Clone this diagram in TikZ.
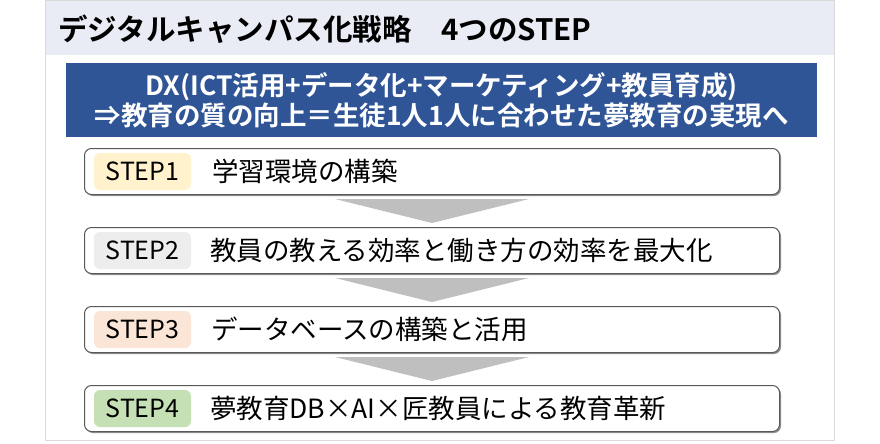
\documentclass[tikz,border=0pt]{standalone}
\usepackage{fontspec}
\setmainfont{Noto Sans CJK JP}
\newfontfamily\jpb{Noto Sans CJK JP Bold}
\usetikzlibrary{shadows}
\definecolor{band}{HTML}{E9EBF5}
\definecolor{frame}{HTML}{D9D9D9}
\definecolor{dxblue}{HTML}{2F5597}
\definecolor{bOne}{HTML}{FFF2CC}
\definecolor{bTwo}{HTML}{EDEDED}
\definecolor{bThree}{HTML}{FBE5D6}
\definecolor{bFour}{HTML}{C5E0B4}
\definecolor{arrowgray}{HTML}{BFBFBF}
\tikzset{
  stepbox/.style={draw=black!65, line width=1pt, fill=white, rounded corners=7pt,
    minimum width=695pt, minimum height=46pt, anchor=north west, inner sep=0pt,
    drop shadow={shadow xshift=1.5pt, shadow yshift=-1.5pt, fill=black!55, opacity=0.8}},
  badge/.style={rounded corners=6pt, minimum width=97pt, minimum height=37pt,
    inner sep=0pt, font=\fontsize{25}{28}\selectfont},
  steptext/.style={anchor=west, inner sep=0pt, font=\fontsize{26.5}{30}\selectfont},
  flowarrow/.style={fill=arrowgray, draw=none}
}
\begin{document}
\begin{tikzpicture}[x=1pt,y=-1pt]
\useasboundingbox (0,0) rectangle (880,444);
% frame and title band
\fill[white] (0,0) rectangle (880,444);
\draw[frame, line width=1pt] (45,0.5) rectangle (834,440);
\fill[band] (45.5,1) rectangle (833.5,55);
\node[anchor=west, inner sep=0pt, font=\jpb\fontsize{29.5}{32}\selectfont] (title) at (58,29) {デジタルキャンパス化戦略　4つのSTEP};
% DX box
\node[fill=dxblue, minimum width=751pt, minimum height=74pt, inner sep=0pt, anchor=north west] (dx) at (66,63) {};
\node[text=white, font=\jpb\fontsize{26.5}{30}\selectfont, align=center, inner sep=0pt] (dxt) at (dx.center)
  {DX(ICT活用+データ化+マーケティング+教員育成)\\⇒教育の質の向上＝生徒1人1人に合わせた夢教育の実現へ};
% steps
\node[stepbox] (s1) at (84,148) {};
\node[stepbox] (s2) at (84,227) {};
\node[stepbox] (s3) at (84,306) {};
\node[stepbox] (s4) at (84,385) {};
\node[badge, fill=bOne] (b1) at ([xshift=58.5pt]s1.west) {STEP1};
\node[badge, fill=bTwo] (b2) at ([xshift=58.5pt]s2.west) {STEP2};
\node[badge, fill=bThree] (b3) at ([xshift=58.5pt]s3.west) {STEP3};
\node[badge, fill=bFour] (b4) at ([xshift=58.5pt]s4.west) {STEP4};
\node[steptext] (t1) at ([xshift=128pt]s1.west) {学習環境の構築};
\node[steptext] (t2) at ([xshift=126pt]s2.west) {教員の教える効率と働き方の効率を最大化};
\node[steptext] (t3) at ([xshift=127pt]s3.west) {データベースの構築と活用};
\node[steptext] (t4) at ([xshift=126pt]s4.west) {夢教育DB×AI×匠教員による教育革新};
% arrows
\fill[flowarrow] ([shift={(-97pt,-4pt)}]s1.south) -- ([shift={(97pt,-4pt)}]s1.south) -- ([yshift=4pt]s2.north) -- cycle;
\fill[flowarrow] ([shift={(-97pt,-4pt)}]s2.south) -- ([shift={(97pt,-4pt)}]s2.south) -- ([yshift=4pt]s3.north) -- cycle;
\fill[flowarrow] ([shift={(-97pt,-4pt)}]s3.south) -- ([shift={(97pt,-4pt)}]s3.south) -- ([yshift=4pt]s4.north) -- cycle;
\end{tikzpicture}
\end{document}
